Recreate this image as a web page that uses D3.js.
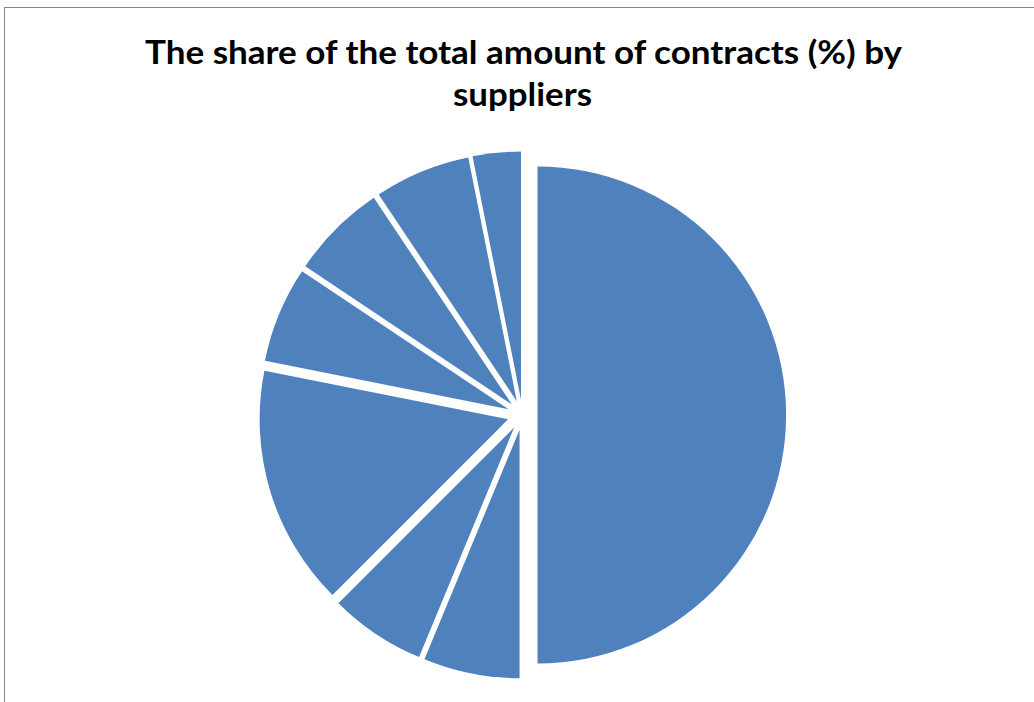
<!DOCTYPE html>
<html>
<head>
<meta charset="utf-8">
<script src="https://cdn.jsdelivr.net/npm/d3@7"></script>
<style>
  html, body { margin: 0; padding: 0; background: #ffffff; }
  svg { display: block; }
</style>
</head>
<body>
<svg id="chart" width="1034" height="702"></svg>
<script>
// Data (share of the total amount of contracts, %)
const suppliers = ["Supplier 1", "Supplier 2", "Supplier 3", "Supplier 4", "Supplier 5", "Supplier 6", "Supplier 7", "Supplier 8"];
const shares = [50, 6.25, 6.25, 15.625, 6.25, 6.25, 6.25, 3.125];
const titleLines = ["The share of the total amount of contracts (%) by", "suppliers"];

const width = 1034, height = 702;
const svg = d3.select("#chart");

// chart frame
svg.append("rect")
  .attr("x", 4.5).attr("y", 7.5)
  .attr("width", 1060).attr("height", 720)
  .attr("fill", "#ffffff")
  .attr("stroke", "#868686")
  .attr("stroke-width", 1);

// title
const title = svg.append("text")
  .attr("text-anchor", "middle")
  .attr("font-family", "Lato, 'Open Sans', 'DejaVu Sans', sans-serif")
  .attr("font-weight", "bold")
  .attr("font-size", 32)
  .attr("fill", "#000000");
title.append("tspan").attr("x", 523.5).attr("y", 63.5).text(titleLines[0])
  .attr("textLength", 757).attr("lengthAdjust", "spacingAndGlyphs");
title.append("tspan").attr("x", 522.5).attr("y", 106).text(titleLines[1])
  .attr("textLength", 139).attr("lengthAdjust", "spacingAndGlyphs");

// pie
const cx = 522.5, cy = 415, radius = 248.5, explode = 15;
const pie = d3.pie().sort(null).value(d => d)(shares);
const arc = d3.arc().innerRadius(0).outerRadius(radius);

const g = svg.append("g").attr("transform", `translate(${cx},${cy})`);
g.selectAll("path")
  .data(pie)
  .join("path")
  .attr("d", arc)
  .attr("fill", "#4F81BD")
  .attr("transform", d => {
    const a = (d.startAngle + d.endAngle) / 2;
    return `translate(${explode * Math.sin(a)},${-explode * Math.cos(a)})`;
  })
  .append("title").text((d, i) => `${suppliers[i]}: ${d.data}%`);
</script>
</body>
</html>
